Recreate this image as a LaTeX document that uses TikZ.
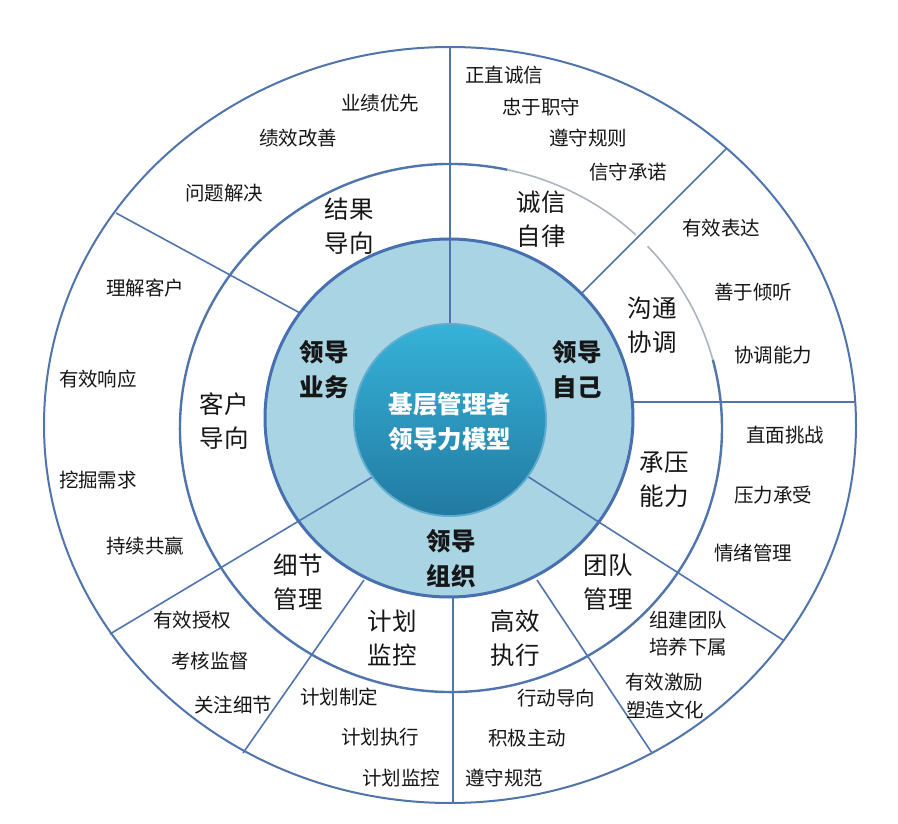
\documentclass[tikz,border=0pt]{standalone}
\usepackage{fontspec}
\newfontfamily\cjk{Noto Sans CJK SC}
\definecolor{ringline}{RGB}{80,116,172}
\definecolor{ringfill}{RGB}{168,212,228}
\definecolor{ringedge}{RGB}{72,112,176}
\definecolor{coretop}{RGB}{54,178,216}
\definecolor{corebot}{RGB}{34,122,162}
\definecolor{corerim}{RGB}{96,172,206}
\definecolor{fadeline}{RGB}{172,180,192}
\definecolor{txt}{RGB}{22,22,22}
\begin{document}
\begin{tikzpicture}[x=1pt,y=-1pt,
  spoke/.style={draw=ringline, line width=1.6pt},
  outer/.style={font={\cjk\fontsize{19.5}{22}\selectfont}, text=txt, inner sep=0pt},
  mid/.style={font={\cjk\fontsize{24.5}{34}\selectfont}, text=txt, align=center, inner sep=0pt},
  lead/.style={font={\cjk\bfseries\fontsize{24.5}{35}\selectfont}, text=txt, align=center, inner sep=0pt},
  core/.style={font={\cjk\bfseries\fontsize{24.5}{35}\selectfont}, text=white, align=center, inner sep=0pt}]
\useasboundingbox (0,0) rectangle (898,824);
\fill[white] (0,0) rectangle (898,824);

% outer ring
\draw[ringline, line width=2pt] (450,425) ellipse[x radius=406pt, y radius=378pt];
% blue ring fill
\fill[ringfill] (449,418) ellipse[x radius=184pt, y radius=179pt];

% spoke end points
\coordinate (sTopIn) at (450,325);  \coordinate (sTopOut) at (450,47);
\coordinate (sLLIn) at (374,476);   \coordinate (sLLOut) at (110,634);
\coordinate (sLRIn) at (527,476);   \coordinate (sLROut) at (783,640);
\coordinate (sULIn) at (300,313);   \coordinate (sULOut) at (116,213);
\coordinate (sURIn) at (582,293);   \coordinate (sUROut) at (727,148);
\coordinate (sRIn) at (632,402);    \coordinate (sROut) at (856,402);
\coordinate (sBIn) at (453,597);    \coordinate (sBOut) at (453,803);
\coordinate (sLL2In) at (364,580);  \coordinate (sLL2Out) at (243,753);
\coordinate (sLR2In) at (537,580);  \coordinate (sLR2Out) at (652,753);

\draw[spoke] (sTopIn) -- (sTopOut);
\draw[spoke] (sLLIn) -- (sLLOut);
\draw[spoke] (sLRIn) -- (sLROut);
\draw[spoke] (sULIn) -- (sULOut);
\draw[spoke] (sURIn) -- (sUROut);
\draw[spoke] (sRIn) -- (sROut);
\draw[spoke] (sBIn) -- (sBOut);
\draw[spoke] (sLL2In) -- (sLL2Out);
\draw[spoke] (sLR2In) -- (sLR2Out);

% middle ring
\draw[ringline, line width=2.4pt] ([shift={(451,428)}]78:271pt and 264pt)
  arc[start angle=78, end angle=375, x radius=271pt, y radius=264pt];
\draw[fadeline, line width=1.6pt] ([shift={(451,428)}]15:271pt and 264pt)
  arc[start angle=15, end angle=43.5, x radius=271pt, y radius=264pt];
\draw[fadeline, line width=1.6pt] ([shift={(451,428)}]47:271pt and 264pt)
  arc[start angle=47, end angle=78, x radius=271pt, y radius=264pt];

% blue ring border
\draw[ringedge, line width=3pt] (449,418) ellipse[x radius=184pt, y radius=179pt];

% core
\fill[corerim] (450,420) circle[radius=97pt];
\shade[top color=coretop, bottom color=corebot] (450,420) circle[radius=95pt];

% centre text
\node[core] (core) at (450,422) {基层管理者\\领导力模型};

% blue ring labels
\node[lead] (lb) at (324,370) {领导\\业务};
\node[lead] (ls) at (577,370) {领导\\自己};
\node[lead] (lo) at (451,559) {领导\\组织};

% middle ring labels
\node[mid] (m1) at (349,226) {结果\\导向};
\node[mid] (m2) at (541,219) {诚信\\自律};
\node[mid] (m3) at (652,325) {沟通\\协调};
\node[mid] (m4) at (664,480) {承压\\能力};
\node[mid] (m5) at (608,582) {团队\\管理};
\node[mid] (m6) at (515,638) {高效\\执行};
\node[mid] (m7) at (392,638) {计划\\监控};
\node[mid] (m8) at (298,582) {细节\\管理};
\node[mid] (m9) at (224,421) {客户\\导向};

% outer ring texts
\node[outer] (o1) at (380,103) {业绩优先};
\node[outer] (o2) at (298,138) {绩效改善};
\node[outer] (o3) at (224,193) {问题解决};

\node[outer] (o4) at (504,75) {正直诚信};
\node[outer] (o5) at (541,107) {忠于职守};
\node[outer] (o6) at (588,138) {遵守规则};
\node[outer] (o7) at (628,172) {信守承诺};

\node[outer] (o8) at (721,228) {有效表达};
\node[outer] (o9) at (753,292) {善于倾听};
\node[outer] (o10) at (773,355) {协调能力};

\node[outer] (o11) at (785,435) {直面挑战};
\node[outer] (o12) at (773,495) {压力承受};
\node[outer] (o13) at (753,553) {情绪管理};

\node[outer] (o14) at (688,620) {组建团队};
\node[outer] (o15) at (688,647) {培养下属};
\node[outer] (o16) at (664,682) {有效激励};
\node[outer] (o17) at (665,710) {塑造文化};

\node[outer] (o18) at (556,698) {行动导向};
\node[outer] (o19) at (527,738) {积极主动};
\node[outer] (o20) at (504,778) {遵守规范};

\node[outer] (o21) at (339,697) {计划制定};
\node[outer] (o22) at (380,737) {计划执行};
\node[outer] (o23) at (401,778) {计划监控};

\node[outer] (o24) at (192,620) {有效授权};
\node[outer] (o25) at (210,661) {考核监督};
\node[outer] (o26) at (233,705) {关注细节};

\node[outer] (o27) at (145,288) {理解客户};
\node[outer] (o28) at (98,379) {有效响应};
\node[outer] (o29) at (98,480) {挖掘需求};
\node[outer] (o30) at (145,546) {持续共赢};
\end{tikzpicture}
\end{document}
